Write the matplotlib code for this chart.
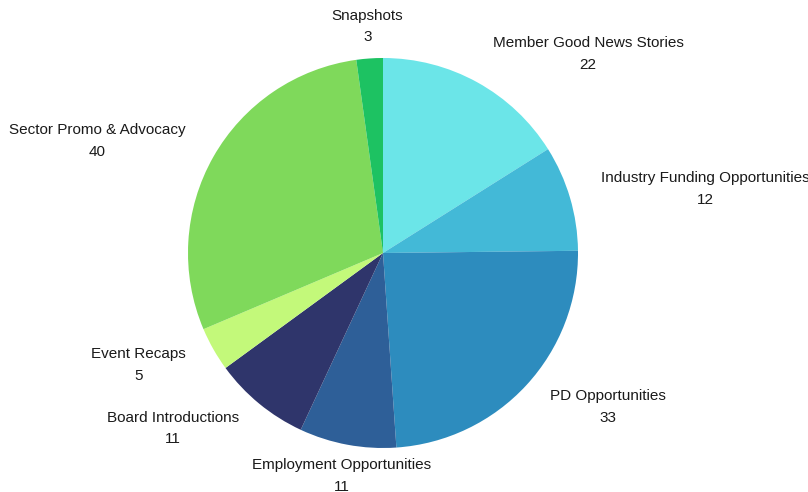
import matplotlib
matplotlib.use("Agg")
import matplotlib.pyplot as plt
import numpy as np

categories = ["Member Good News Stories", "Industry Funding Opportunities", "PD Opportunities",
              "Employment Opportunities", "Board Introductions", "Event Recaps",
              "Sector Promo & Advocacy", "Snapshots"]
values = [22, 12, 33, 11, 11, 5, 40, 3]
colors = ["#6BE5E8", "#43B9D7", "#2D8CBE", "#2E5F98", "#2F356B", "#C3F97A", "#7FD95B", "#1DC262"]

plt.rcParams['font.family'] = ['Liberation Sans', 'DejaVu Sans']

W, H = 808, 492
fig = plt.figure(figsize=(W / 100, H / 100), dpi=100)
ax = fig.add_axes([0, 0, 1, 1])
cx, cy, R = 383, 253, 195

wedges, _ = ax.pie(values, colors=colors, startangle=90, counterclock=False,
                   radius=1.0, wedgeprops=dict(linewidth=0), frame=True)
ax.set_xlim(-cx / R, (W - cx) / R)
ax.set_ylim(-(H - cy) / R, cy / R)
ax.set_aspect('auto')
ax.axis('off')

total = sum(values)
cum = 0
ld = 1.164
for name, v in zip(categories, values):
    mid = (cum + v / 2) / total * 2 * np.pi
    cum += v
    x = ld * np.sin(mid)
    y = ld * np.cos(mid)
    s = np.sin(mid)
    if abs(s) < 0.25:
        ha = 'center'
    elif s > 0:
        ha = 'left'
    else:
        ha = 'right'
    ax.text(x, y, f"{name}\n{v}", ha=ha, va='center', multialignment='center',
            fontsize=11, color='#1a1a1a', linespacing=1.7)

fig.savefig("out.png", dpi=100)
